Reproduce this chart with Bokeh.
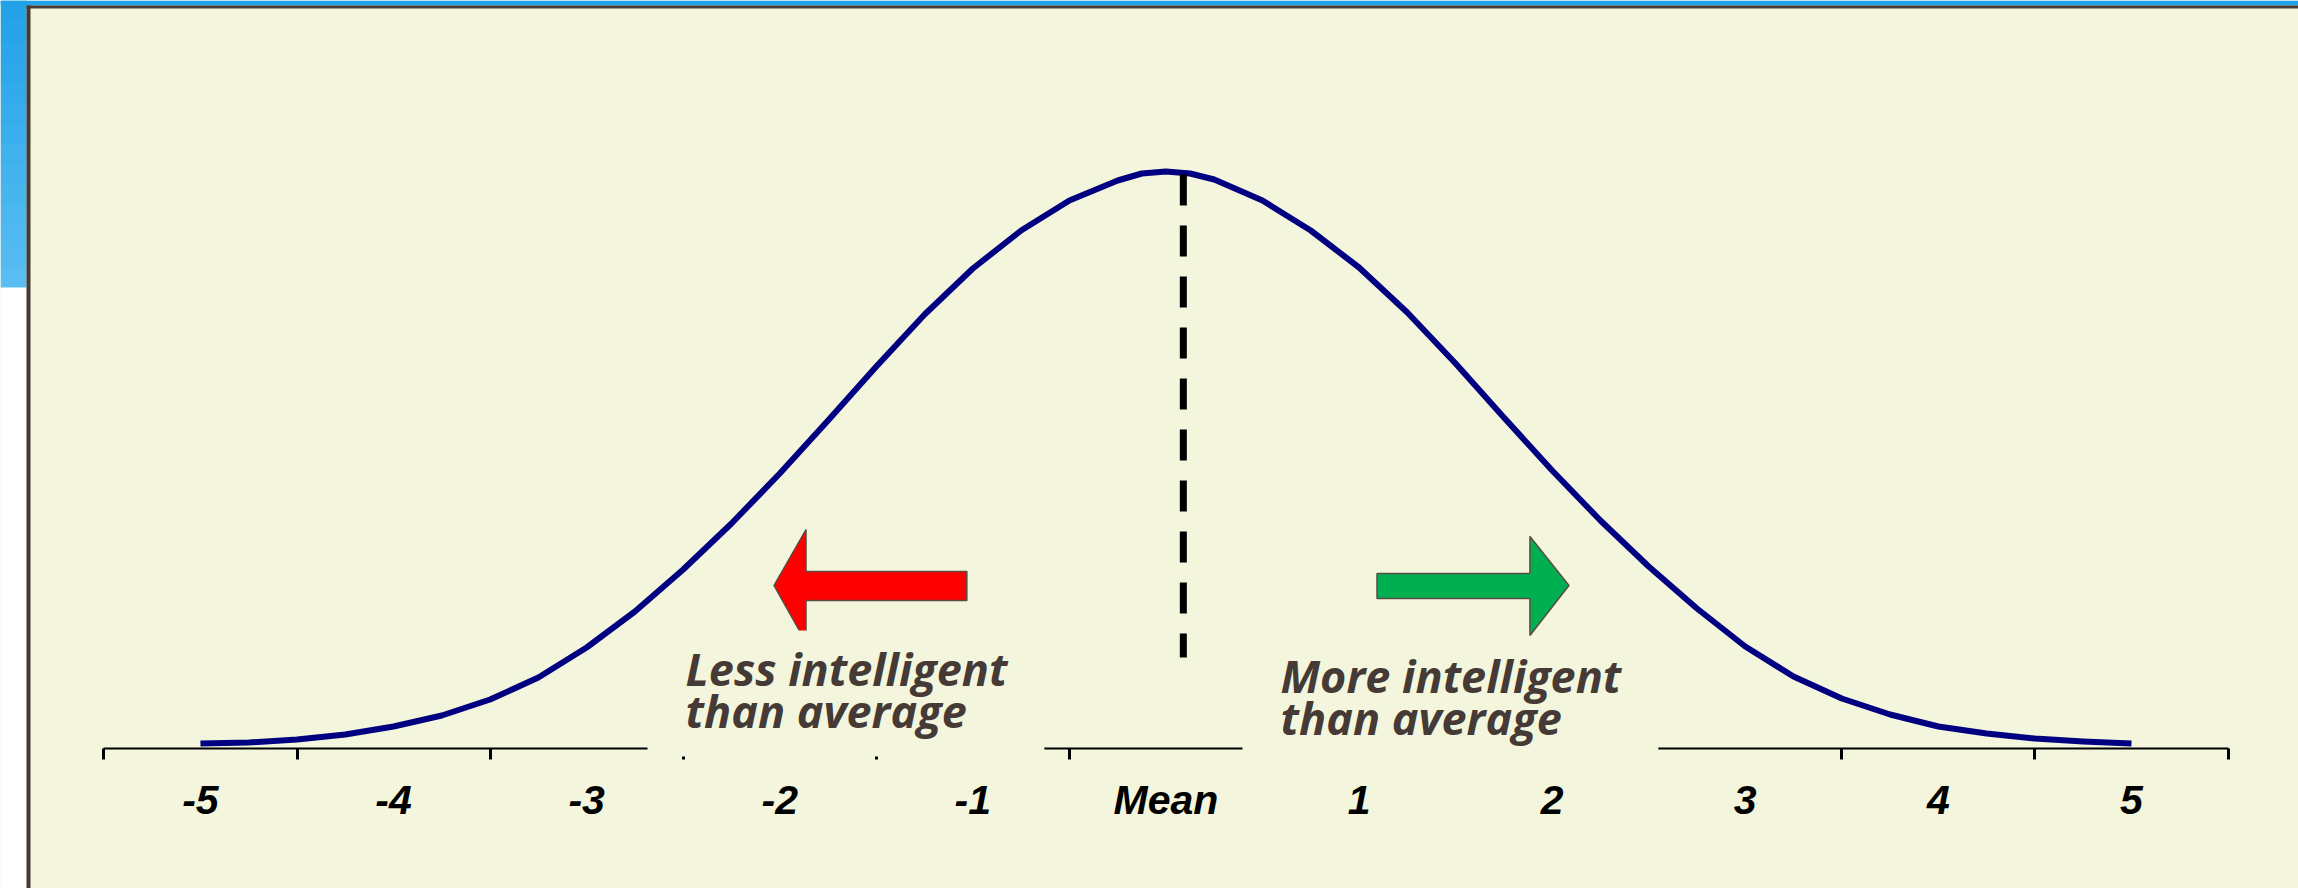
import numpy as np
from bokeh.plotting import figure
from bokeh.models import Range1d, LinearAxis, FixedTicker, Label
from bokeh.embed import file_html
from bokeh.resources import INLINE

# ---------------- data ----------------
# x: standard deviations from the mean; density: relative height of the curve
x_sd = [-5.0, -4.75, -4.5, -4.25, -4.0, -3.75, -3.5, -3.25, -3.0, -2.75, -2.5,
        -2.25, -2.0, -1.75, -1.5, -1.25, -1.0, -0.75, -0.5, -0.25, -0.125, 0.0,
        0.125, 0.25, 0.5, 0.75, 1.0, 1.25, 1.5, 1.75, 2.0, 2.25, 2.5,
        2.75, 3.0, 3.25, 3.5, 3.75, 4.0, 4.25, 4.5, 4.75, 5.0]
density = [5, 6, 9, 14, 22, 33, 49, 71, 101, 137, 179,
           225, 275, 328, 382, 434, 480, 518, 548, 568, 575, 577,
           575, 569, 548, 518, 481, 436, 385, 331, 278, 228, 182,
           140, 102, 72, 50, 34, 22, 15, 10, 7, 5]

tick_values = [-5, -4, -3, -2, -1, 0, 1, 2, 3, 4, 5]
tick_labels = ["-5", "-4", "-3", "-2", "-1", "Mean", "1", "2", "3", "4", "5"]
category_edges = [-5.5, -4.5, -3.5, -2.5, -1.5, -0.5, 0.5, 1.5, 2.5, 3.5, 4.5, 5.5]

mean_marker_x = [0.09, 0.09]
mean_marker_y = [574, 91]

left_arrow_x = [-2.030, -1.864, -1.864, -1.031, -1.031, -1.864, -1.864]
left_arrow_y = [163, 219, 177, 177, 148, 148, 106]
right_arrow_x = [2.087, 1.885, 1.885, 1.093, 1.093, 1.885, 1.885]
right_arrow_y = [163, 212, 175, 175, 150, 150, 113]

left_note = "Less intelligent\nthan average"
right_note = "More intelligent\nthan average"

# ---------------- layout / style ----------------
W, H = 2298, 888
PX_PER_UNIT = 193.1          # px per standard deviation
X_ZERO_PX = 1165.45          # canvas px of the mean
Y_ZERO_PX = 748              # canvas px of the baseline
x_start = -X_ZERO_PX / PX_PER_UNIT
x_end = (W - X_ZERO_PX) / PX_PER_UNIT
y_start = -(H - Y_ZERO_PX)
y_end = Y_ZERO_PX

def px2x(px):
    return (px - X_ZERO_PX) / PX_PER_UNIT

def px2y(py):
    return Y_ZERO_PX - py

CREAM = "#f3f6dc"
FRAME = "#453a35"
NAVY = "#000080"
TEXT = "#453a35"

p = figure(width=W, height=H, x_range=Range1d(x_start, x_end), y_range=Range1d(y_start, y_end),
           output_backend="svg", toolbar_location=None, title=None,
           x_axis_type=None, y_axis_type=None, min_border=0,
           background_fill_color=CREAM, border_fill_color=CREAM, outline_line_color=None)
p.min_border_left = p.min_border_right = p.min_border_top = p.min_border_bottom = 0

# slide decoration: blue band on top and on the left (fading down, then white), dark frame border
n_bands = 14
c0 = np.array([0x21, 0xa1, 0xe8])
c1 = np.array([0x5a, 0xbe, 0xf3])
blue_top, blue_bottom = px2y(0), px2y(287)
band_h = (blue_top - blue_bottom) / n_bands
for i in range(n_bands):
    c = c0 + (c1 - c0) * (i + 0.5) / n_bands
    col = "#%02x%02x%02x" % tuple(int(round(v)) for v in c)
    top = blue_top - i * band_h
    p.quad(left=x_start, right=px2x(26), top=top, bottom=top - band_h - 0.5,
           fill_color=col, line_color=None)
p.quad(left=x_start, right=px2x(26), top=blue_bottom, bottom=y_start, fill_color="white", line_color=None)
p.quad(left=x_start, right=x_end, top=px2y(0), bottom=px2y(5), fill_color="#21a3e9", line_color=None)
p.quad(left=px2x(26), right=x_end, top=px2y(5), bottom=px2y(8), fill_color=FRAME, line_color=None)
p.quad(left=px2x(26), right=px2x(30), top=px2y(5), bottom=y_start, fill_color=FRAME, line_color=None)

# bell curve
p.line(x_sd, density, line_color=NAVY, line_width=6, line_join="round")

# dashed mean line
p.line(mean_marker_x, mean_marker_y, line_color="black", line_width=7, line_dash="31 20")

# arrows
p.patch(left_arrow_x, left_arrow_y, fill_color="#ff0000", line_color="#5b4b45", line_width=1.5)
p.patch(right_arrow_x, right_arrow_y, fill_color="#00b050", line_color="#5b4b45", line_width=1.5)

# axis
ax = LinearAxis(fixed_location=0,
                ticker=FixedTicker(ticks=tick_values, minor_ticks=category_edges),
                bounds=(category_edges[0], category_edges[-1]))
ax.major_label_overrides = {float(v): lab for v, lab in zip(tick_values, tick_labels)}
ax.axis_line_color = "black"
ax.axis_line_width = 2
ax.major_tick_line_color = None
ax.major_tick_out = 11
ax.major_tick_in = 0
ax.minor_tick_line_color = "black"
ax.minor_tick_line_width = 3
ax.minor_tick_out = 11
ax.minor_tick_in = 0
ax.major_label_standoff = 17
ax.major_label_text_font = "Liberation Sans"
ax.major_label_text_font_style = "bold italic"
ax.major_label_text_font_size = "41px"
ax.major_label_text_color = "black"
p.add_layout(ax, "below")

# notes (their cream boxes hide parts of the axis line, as in the original)
for txt, x_left_px, y_bottom_px in [(left_note, 647, 756), (right_note, 1242, 763)]:
    p.add_layout(Label(x=px2x(x_left_px), y=px2y(y_bottom_px), text=txt, anchor="bottom_left",
                       text_font="Open Sans", text_font_style="bold italic",
                       text_font_size="45px", text_color=TEXT, text_line_height=0.69,
                       background_fill_color=CREAM, border_line_color=None,
                       padding=dict(left=38, right=37, top=8, bottom=15)))

open("out.html", "w").write(file_html(p, INLINE))
